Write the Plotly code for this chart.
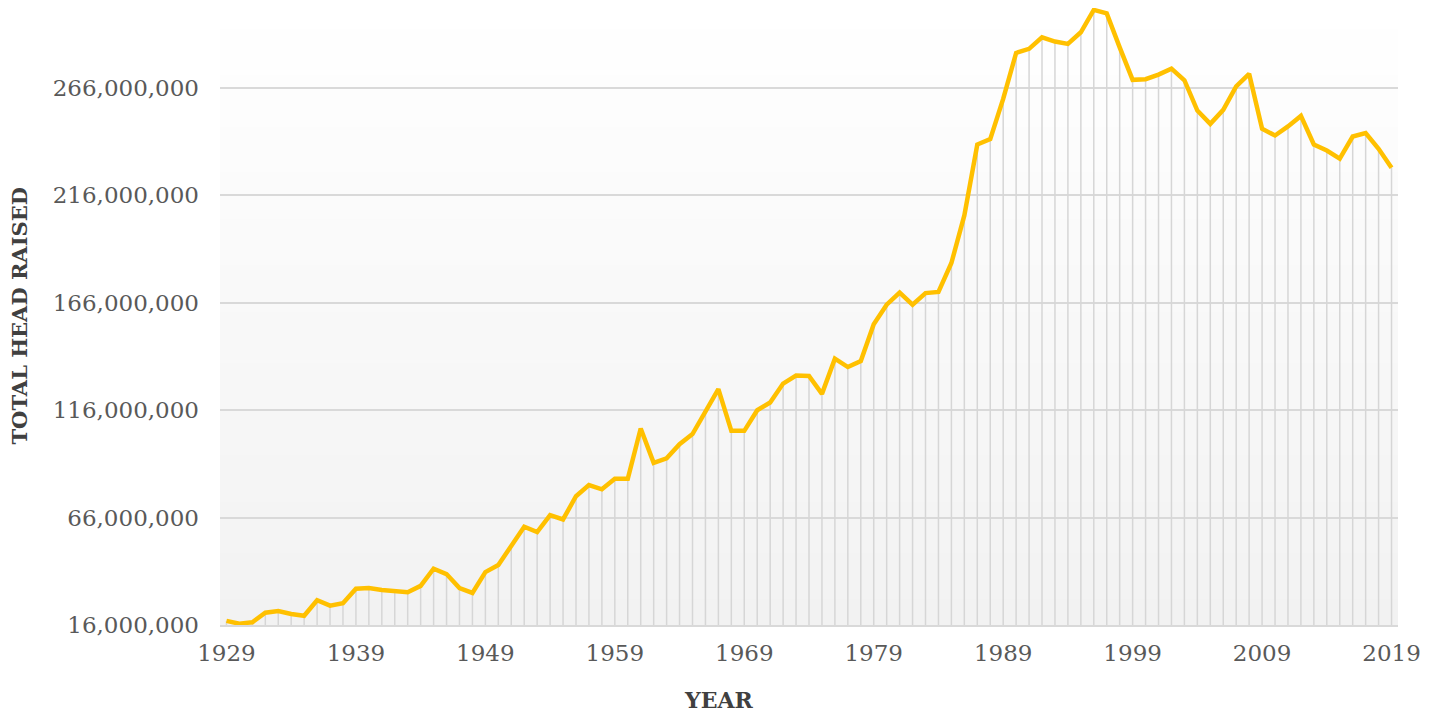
import plotly.graph_objects as go

# Annual totals, 1929-2019
years = list(range(1929, 2020))
head_raised = [
    17.9e6, 16.6e6, 17.3e6, 21.7e6, 22.5e6, 21.1e6, 20.3e6, 27.5e6, 25.0e6, 26.1e6,   # 1929-1938
    32.9e6, 33.2e6, 32.3e6, 31.9e6, 31.2e6, 34.2e6, 42.2e6, 39.7e6, 33.2e6, 30.9e6,   # 1939-1948
    40.6e6, 43.9e6, 52.4e6, 61.7e6, 59.2e6, 67.1e6, 65.1e6, 75.9e6, 81.1e6, 79.1e6,   # 1949-1958
    84.0e6, 84.0e6, 107.4e6, 91.4e6, 93.5e6, 100.1e6, 104.8e6, 115.4e6, 125.7e6, 106.3e6,  # 1959-1968
    106.3e6, 115.9e6, 119.5e6, 128.3e6, 132.0e6, 131.8e6, 123.5e6, 139.9e6, 136.0e6, 138.8e6,  # 1969-1978
    155.9e6, 165.0e6, 170.6e6, 165.0e6, 170.4e6, 170.9e6, 184.4e6, 206.5e6, 239.5e6, 242.0e6,  # 1979-1988
    260.7e6, 282.1e6, 284.0e6, 289.4e6, 287.4e6, 286.3e6, 291.7e6, 302.1e6, 300.5e6, 284.7e6,  # 1989-1998
    269.6e6, 269.9e6, 272.0e6, 274.8e6, 269.4e6, 255.3e6, 249.1e6, 255.6e6, 266.5e6, 272.4e6,  # 1999-2008
    246.8e6, 243.7e6, 247.9e6, 252.8e6, 239.5e6, 236.7e6, 232.9e6, 243.2e6, 244.8e6, 237.5e6,  # 2009-2018
    228.7e6,                                                                                  # 2019
]
y_ticks = [16e6, 66e6, 116e6, 166e6, 216e6, 266e6]
x_ticks = [1929, 1939, 1949, 1959, 1969, 1979, 1989, 1999, 2009, 2019]

Y_MIN, Y_MAX = 16e6, 303e6
X_MIN, X_MAX = 1928.5, 2019.5

LINE_GOLD = "#FFC000"
GRID = "#d9d9d9"
DROP = "#d6d6d6"
TEXT = "#595959"
FONT = "DejaVu Serif"

fig = go.Figure()

# drop lines from the baseline up to each year's value
drop_x, drop_y = [], []
for yr, v in zip(years, head_raised):
    drop_x += [yr, yr, None]
    drop_y += [Y_MIN, v, None]
fig.add_trace(go.Scatter(
    x=drop_x, y=drop_y, mode="lines",
    line=dict(color=DROP, width=1.5),
    hoverinfo="skip", showlegend=False,
))

fig.add_trace(go.Scatter(
    x=years, y=head_raised, mode="lines",
    line=dict(color=LINE_GOLD, width=4.5),
    showlegend=False,
))

# soft vertical gradient behind the plot area (grey at bottom, white at top)
n_strips = 120
shapes = []
for i in range(n_strips):
    t = i / n_strips
    g = int(round(242 + (255 - 242) * t))
    shapes.append(dict(
        type="rect", xref="paper", yref="paper",
        x0=0, x1=1, y0=t, y1=(i + 1) / n_strips + 0.002,
        fillcolor=f"rgb({g},{g},{g})", line=dict(width=0), layer="below",
    ))

fig.update_layout(
    width=1439, height=713,
    margin=dict(l=220, r=41, t=8, b=88),
    paper_bgcolor="white",
    plot_bgcolor="white",
    shapes=shapes,
    font=dict(family=FONT, color=TEXT, size=23),
    xaxis=dict(
        range=[X_MIN, X_MAX],
        tickmode="array", tickvals=x_ticks,
        showgrid=False, zeroline=False,
        showline=True, linecolor=GRID, linewidth=2,
        ticks="", ticklabelstandoff=6,
        tickfont=dict(family=FONT, size=23, color=TEXT),
    ),
    yaxis=dict(
        range=[Y_MIN, Y_MAX],
        tickmode="array", tickvals=y_ticks, tickformat=",d",
        showgrid=True, gridcolor=GRID, gridwidth=1.5,
        zeroline=False, showline=False,
        ticks="", ticklabelstandoff=20,
        tickfont=dict(family=FONT, size=23, color=TEXT),
    ),
    annotations=[
        dict(text="<b>TOTAL HEAD RAISED</b>", textangle=-90,
             xref="paper", yref="paper", x=-0.1706, y=0.5,
             xanchor="center", yanchor="middle", showarrow=False,
             font=dict(family=FONT, size=21, color="#404040")),
        dict(text="<b>YEAR</b>",
             xref="paper", yref="paper", x=0.424, y=-0.1216,
             xanchor="center", yanchor="middle", showarrow=False,
             font=dict(family=FONT, size=22, color="#404040")),
    ],
)

fig.write_html("out.html")
